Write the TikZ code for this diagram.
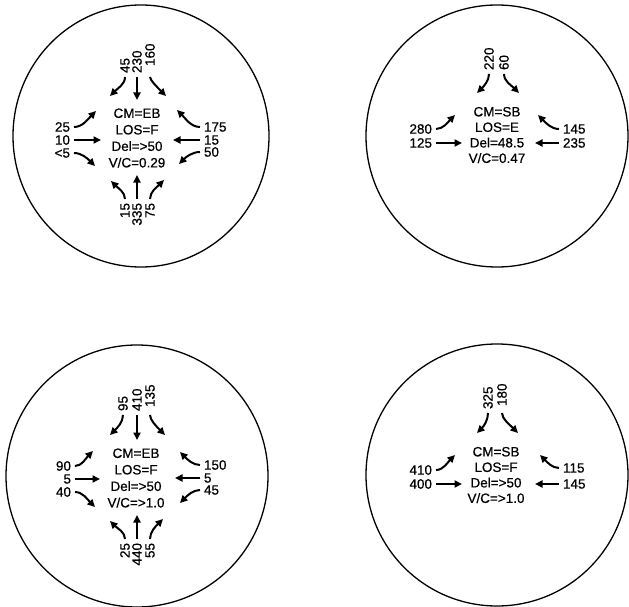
\documentclass[tikz,border=0pt]{standalone}
\usepackage{fontspec}
\setmainfont{Liberation Sans}[BoldFont=Liberation Sans, BoldFeatures={FakeBold=0.6}]
\usetikzlibrary{arrows.meta}
\tikzset{
  ring/.style={draw, line width=1.3pt},
  lab/.style={inner sep=0pt, outer sep=1pt, font=\fontsize{13.5}{16}\selectfont\bfseries},
  vlab/.style={lab, rotate=90},
  arr/.style={line width=2pt, -{Triangle[length=7.5pt,width=7pt]}, shorten <=3pt},
  info/.style={align=center, inner sep=0pt, font=\fontsize{13.5}{16.5}\selectfont\bfseries},
  infob/.style={align=center, inner sep=0pt, font=\fontsize{13.5}{15.5}\selectfont\bfseries},
}
\begin{document}
\begin{tikzpicture}[x=1pt,y=-1pt]
\useasboundingbox (0,0) rectangle (629,607);

% ================= Top-left =================
\draw[ring] (141,136) ellipse [x radius=128, y radius=131];
\node[info] (tlc) at (137,138) {CM=EB\\LOS=F\\Del=>50\\V/C=0.29};
% top
\node[vlab, anchor=west] (tl45) at (125,74) {45};
\node[vlab, anchor=west] (tl230) at (137,74) {230};
\node[vlab, anchor=west] (tl160) at (150,67) {160};
\coordinate (tlt1) at (110,96);
\coordinate (tlt2) at (137,100);
\coordinate (tlt3) at (166,96);
\draw[arr] (tl45.west) to[out=-90,in=45] (tlt1);
\draw[arr] (tl230.west) -- (tlt2);
\draw[arr, shorten <=10pt] (tl160.west) to[out=-90,in=135] (tlt3);
% left
\node[lab, anchor=east] (tl25) at (71,127) {25};
\node[lab, anchor=east] (tl10) at (71,140) {10};
\node[lab, anchor=east] (tl5) at (71,153) {<5};
\coordinate (tll1) at (96,111);
\coordinate (tll2) at (101,140);
\coordinate (tll3) at (95,166);
\draw[arr] (tl25.east) to[out=0,in=225] (tll1);
\draw[arr] (tl10.east) -- (tll2);
\draw[arr] (tl5.east) to[out=0,in=135] (tll3);
% right
\node[lab, anchor=west] (tl175) at (203,127) {175};
\node[lab, anchor=west] (tl15) at (203,140) {15};
\node[lab, anchor=west] (tl50) at (203,152) {50};
\coordinate (tlr1) at (177,110);
\coordinate (tlr2) at (173,140);
\coordinate (tlr3) at (179,164);
\draw[arr] (tl175.west) to[out=180,in=-45] (tlr1);
\draw[arr] (tl15.west) -- (tlr2);
\draw[arr] (tl50.west) to[out=180,in=45] (tlr3);
% bottom
\node[vlab, anchor=east] (tlb15) at (125,202) {15};
\node[vlab, anchor=east] (tlb335) at (137,202) {335};
\node[vlab, anchor=east] (tlb75) at (150,202) {75};
\coordinate (tlb1) at (111,181);
\coordinate (tlb2) at (137,175);
\coordinate (tlb3) at (164,180);
\draw[arr] (tlb15.east) to[out=90,in=-45] (tlb1);
\draw[arr] (tlb335.east) -- (tlb2);
\draw[arr] (tlb75.east) to[out=90,in=225] (tlb3);

% ================= Top-right =================
\draw[ring] (497,136) circle [radius=131];
\node[infob] (trc) at (497,135) {CM=SB\\LOS=E\\Del=48.5\\V/C=0.47};
\node[vlab, anchor=west] (tr220) at (489,71) {220};
\node[vlab, anchor=west] (tr60) at (504,71) {60};
\coordinate (trt1) at (477,93);
\coordinate (trt2) at (519,93);
\draw[arr] (tr220.west) to[out=-90,in=45] (trt1);
\draw[arr] (tr60.west) to[out=-90,in=135] (trt2);
\node[lab, anchor=east] (tr280) at (433,129) {280};
\node[lab, anchor=east] (tr125) at (433,143) {125};
\coordinate (trl1) at (455,115);
\coordinate (trl2) at (462,143);
\draw[arr] (tr280.east) to[out=0,in=225] (trl1);
\draw[arr] (tr125.east) -- (trl2);
\node[lab, anchor=west] (tr145) at (562,129) {145};
\node[lab, anchor=west] (tr235) at (562,143) {235};
\coordinate (trr1) at (538,115);
\coordinate (trr2) at (535,143);
\draw[arr] (tr145.west) to[out=180,in=-45] (trr1);
\draw[arr] (tr235.west) -- (trr2);

% ================= Bottom-left =================
\draw[ring] (137,476) circle [radius=131];
\node[info] (blc) at (136,478) {CM=EB\\LOS=F\\Del=>50\\V/C=>1.0};
\node[vlab, anchor=west] (bl95) at (123,412) {95};
\node[vlab, anchor=west] (bl410) at (137,412) {410};
\node[vlab, anchor=west] (bl135) at (150,408) {135};
\coordinate (blt1) at (110,435);
\coordinate (blt2) at (137,440);
\coordinate (blt3) at (165,435);
\draw[arr] (bl95.west) to[out=-90,in=45] (blt1);
\draw[arr] (bl410.west) -- (blt2);
\draw[arr, shorten <=7pt] (bl135.west) to[out=-90,in=135] (blt3);
\node[lab, anchor=east] (bl90) at (72,466) {90};
\node[lab, anchor=east] (bl5) at (72,479) {5};
\node[lab, anchor=east] (bl40) at (72,492) {40};
\coordinate (bll1) at (93,451);
\coordinate (bll2) at (100,479);
\coordinate (bll3) at (95,507);
\draw[arr] (bl90.east) to[out=0,in=225] (bll1);
\draw[arr] (bl5.east) -- (bll2);
\draw[arr] (bl40.east) to[out=0,in=135] (bll3);
\node[lab, anchor=west] (bl150) at (203,465) {150};
\node[lab, anchor=west] (blr5) at (203,478) {5};
\node[lab, anchor=west] (bl45) at (203,490) {45};
\coordinate (blr1) at (180,452);
\coordinate (blr2) at (175,478);
\coordinate (blr3) at (180,503);
\draw[arr] (bl150.west) to[out=180,in=-45] (blr1);
\draw[arr] (blr5.west) -- (blr2);
\draw[arr] (bl45.west) to[out=180,in=45] (blr3);
\node[vlab, anchor=east] (blb25) at (125,542) {25};
\node[vlab, anchor=east] (blb440) at (137,542) {440};
\node[vlab, anchor=east] (blb55) at (150,542) {55};
\coordinate (blb1) at (110,521);
\coordinate (blb2) at (137,515);
\coordinate (blb3) at (163,519);
\draw[arr] (blb25.east) to[out=90,in=-45] (blb1);
\draw[arr] (blb440.east) -- (blb2);
\draw[arr] (blb55.east) to[out=90,in=225] (blb3);

% ================= Bottom-right =================
\draw[ring] (497,475) circle [radius=131];
\node[infob] (brc) at (496,475) {CM=SB\\LOS=F\\Del=>50\\V/C=>1.0};
\node[vlab, anchor=west] (br325) at (488,410) {325};
\node[vlab, anchor=west] (br180) at (502,407) {180};
\coordinate (brt1) at (477,433);
\coordinate (brt2) at (518,433);
\draw[arr] (br325.west) to[out=-90,in=45] (brt1);
\draw[arr, shorten <=6pt] (br180.west) to[out=-90,in=135] (brt2);
\node[lab, anchor=east] (br410) at (433,470) {410};
\node[lab, anchor=east] (br400) at (433,484) {400};
\coordinate (brl1) at (455,455);
\coordinate (brl2) at (462,484);
\draw[arr] (br410.east) to[out=0,in=225] (brl1);
\draw[arr] (br400.east) -- (brl2);
\node[lab, anchor=west] (br115) at (562,468) {115};
\node[lab, anchor=west] (br145) at (562,484) {145};
\coordinate (brr1) at (540,455);
\coordinate (brr2) at (535,484);
\draw[arr] (br115.west) to[out=180,in=-45] (brr1);
\draw[arr] (br145.west) -- (brr2);
\end{tikzpicture}
\end{document}
